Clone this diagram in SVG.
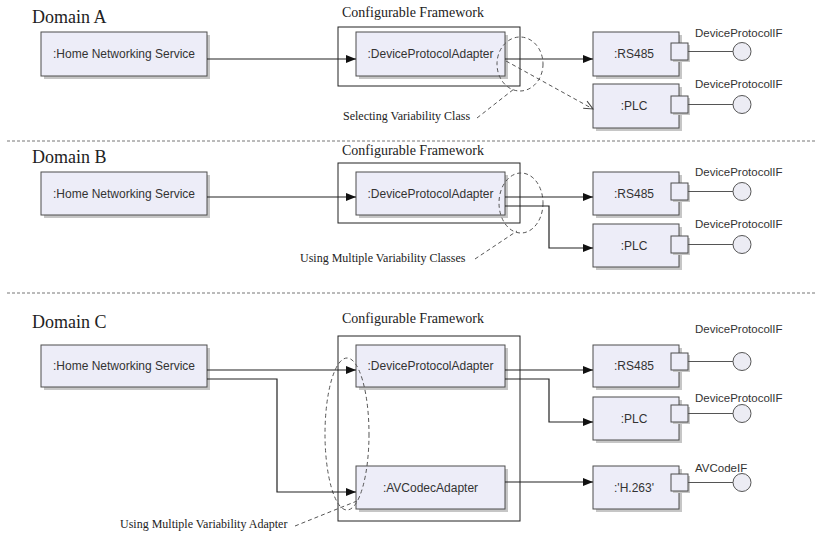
<svg xmlns="http://www.w3.org/2000/svg" width="817" height="535" viewBox="0 0 817 535">
<style>
.bg{fill:#ffffff}
.box{fill:#ededf8;stroke:#4d4d4d;stroke-width:1}
.shadow{fill:#c6c6c6}
.frame{fill:none;stroke:#222;stroke-width:1}
.lbl{font-family:"Liberation Sans",Arial,sans-serif;font-size:12px;fill:#333;text-anchor:middle}
.iflbl{font-family:"Liberation Sans",Arial,sans-serif;font-size:11.5px;fill:#333}
.dom{font-family:"Liberation Serif","Times New Roman",serif;font-size:18px;fill:#222}
.cf{font-family:"Liberation Serif","Times New Roman",serif;font-size:14px;fill:#222}
.note{font-family:"Liberation Serif","Times New Roman",serif;font-size:12px;fill:#222}
.conn{fill:none;stroke:#222;stroke-width:1.2}
.dash{fill:none;stroke:#555;stroke-width:1;stroke-dasharray:4 3}
.sep{fill:none;stroke:#777;stroke-width:1;stroke-dasharray:3 2}
.ifline{fill:none;stroke:#555;stroke-width:1}
.ifc{fill:#ececf4;stroke:#555;stroke-width:1}
</style>
<defs>
<marker id="arr" markerUnits="userSpaceOnUse" markerWidth="12" markerHeight="10" refX="11" refY="5" orient="auto">
<path d="M1,1 L11,5 L1,9 z" fill="#111"/>
</marker>
<marker id="open" markerUnits="userSpaceOnUse" markerWidth="12" markerHeight="10" refX="10" refY="5" orient="auto">
<path d="M1,1 L10,5 L1,9" fill="none" stroke="#444" stroke-width="1"/>
</marker>
</defs>
<rect class="bg" x="0" y="0" width="817" height="535"/>

<g id="separators">
<path class="sep" d="M7,141 H817"/>
<path class="sep" d="M7,293 H817"/>
</g>

<!-- Domain A -->
<g id="domainA-title"><text class="dom" x="32" y="23">Domain A</text></g>
<g id="A-framework">
<rect class="frame" x="338" y="27" width="182" height="59"/>
<text class="cf" x="342" y="17">Configurable Framework</text>
</g>
<g id="A-home">
<rect class="shadow" x="44" y="35" width="166" height="44"/>
<rect class="box" x="41" y="32" width="166" height="44"/>
<text class="lbl" x="124" y="58">:Home Networking Service</text>
</g>
<g id="A-dpa">
<rect class="shadow" x="359" y="35" width="149" height="44"/>
<rect class="box" x="356" y="32" width="149" height="44"/>
<text class="lbl" x="430.5" y="58">:DeviceProtocolAdapter</text>
</g>
<g id="A-rs485">
<rect class="shadow" x="596" y="35" width="86" height="44"/>
<rect class="box" x="593" y="32" width="86" height="44"/>
<text class="lbl" x="634" y="58">:RS485</text>
<rect class="shadow" x="673" y="45" width="17" height="17"/>
<rect class="box" x="671" y="43" width="17" height="17"/>
<path class="ifline" d="M688,51.5 H733"/>
<circle class="ifc" cx="742" cy="51.5" r="9"/>
<text class="iflbl" x="695" y="37">DeviceProtocolIF</text>
</g>
<g id="A-plc">
<rect class="shadow" x="596" y="87" width="86" height="44"/>
<rect class="box" x="593" y="84" width="86" height="44"/>
<text class="lbl" x="634" y="110">:PLC</text>
<rect class="shadow" x="673" y="98" width="17" height="17"/>
<rect class="box" x="671" y="96" width="17" height="17"/>
<path class="ifline" d="M688,104.5 H733"/>
<circle class="ifc" cx="742" cy="104.5" r="9"/>
<text class="iflbl" x="695" y="88">DeviceProtocolIF</text>
</g>
<g id="A-note">
<ellipse class="dash" cx="520" cy="64" rx="23" ry="27"/>
<path class="dash" d="M477,118 L514,89"/>
<text class="note" x="343" y="120">Selecting Variability Class</text>
</g>

<!-- Domain B -->
<g id="domainB-title"><text class="dom" x="32" y="163">Domain B</text></g>
<g id="B-framework">
<rect class="frame" x="338" y="163" width="182" height="60"/>
<text class="cf" x="342" y="155">Configurable Framework</text>
</g>
<g id="B-home">
<rect class="shadow" x="44" y="175" width="166" height="43"/>
<rect class="box" x="41" y="172" width="166" height="43"/>
<text class="lbl" x="124" y="197.5">:Home Networking Service</text>
</g>
<g id="B-dpa">
<rect class="shadow" x="359" y="175" width="149" height="43"/>
<rect class="box" x="356" y="172" width="149" height="43"/>
<text class="lbl" x="430.5" y="197.5">:DeviceProtocolAdapter</text>
</g>
<g id="B-rs485">
<rect class="shadow" x="596" y="175" width="86" height="43"/>
<rect class="box" x="593" y="172" width="86" height="43"/>
<text class="lbl" x="634" y="197.5">:RS485</text>
<rect class="shadow" x="673" y="185" width="17" height="17"/>
<rect class="box" x="671" y="183" width="17" height="17"/>
<path class="ifline" d="M688,191.5 H733"/>
<circle class="ifc" cx="742" cy="191.5" r="9"/>
<text class="iflbl" x="695" y="176">DeviceProtocolIF</text>
</g>
<g id="B-plc">
<rect class="shadow" x="596" y="227" width="86" height="43"/>
<rect class="box" x="593" y="224" width="86" height="43"/>
<text class="lbl" x="634" y="249.5">:PLC</text>
<rect class="shadow" x="673" y="238" width="17" height="17"/>
<rect class="box" x="671" y="236" width="17" height="17"/>
<path class="ifline" d="M688,244.5 H733"/>
<circle class="ifc" cx="742" cy="244.5" r="9"/>
<text class="iflbl" x="695" y="228">DeviceProtocolIF</text>
</g>
<g id="B-note">
<ellipse class="dash" cx="521" cy="203" rx="22" ry="30"/>
<path class="dash" d="M475,259 L517,231"/>
<text class="note" x="300" y="262">Using Multiple Variability Classes</text>
</g>

<!-- Domain C -->
<g id="domainC-title"><text class="dom" x="32" y="328">Domain C</text></g>
<g id="C-framework">
<rect class="frame" x="338" y="336" width="182" height="185"/>
<text class="cf" x="342" y="323">Configurable Framework</text>
</g>
<g id="C-home">
<rect class="shadow" x="44" y="348" width="166" height="42"/>
<rect class="box" x="41" y="345" width="166" height="42"/>
<text class="lbl" x="124" y="370">:Home Networking Service</text>
</g>
<g id="C-dpa">
<rect class="shadow" x="359" y="348" width="149" height="42"/>
<rect class="box" x="356" y="345" width="149" height="42"/>
<text class="lbl" x="430.5" y="370">:DeviceProtocolAdapter</text>
</g>
<g id="C-avcodec">
<rect class="shadow" x="359" y="469" width="149" height="43"/>
<rect class="box" x="356" y="466" width="149" height="43"/>
<text class="lbl" x="430.5" y="491.5">:AVCodecAdapter</text>
</g>
<g id="C-rs485">
<rect class="shadow" x="596" y="348" width="86" height="42"/>
<rect class="box" x="593" y="345" width="86" height="42"/>
<text class="lbl" x="634" y="370">:RS485</text>
<rect class="shadow" x="673" y="355" width="17" height="17"/>
<rect class="box" x="671" y="353" width="17" height="17"/>
<path class="ifline" d="M688,361.5 H733"/>
<circle class="ifc" cx="742" cy="361.5" r="9"/>
<text class="iflbl" x="695" y="333">DeviceProtocolIF</text>
</g>
<g id="C-plc">
<rect class="shadow" x="596" y="400" width="86" height="43"/>
<rect class="box" x="593" y="397" width="86" height="43"/>
<text class="lbl" x="634" y="422.5">:PLC</text>
<rect class="shadow" x="673" y="407" width="17" height="17"/>
<rect class="box" x="671" y="405" width="17" height="17"/>
<path class="ifline" d="M688,413.5 H733"/>
<circle class="ifc" cx="742" cy="413.5" r="9"/>
<text class="iflbl" x="695" y="402">DeviceProtocolIF</text>
</g>
<g id="C-h263">
<rect class="shadow" x="596" y="469" width="86" height="43"/>
<rect class="box" x="593" y="466" width="86" height="43"/>
<text class="lbl" x="634" y="491.5">:'H.263'</text>
<rect class="shadow" x="673" y="476" width="17" height="17"/>
<rect class="box" x="671" y="474" width="17" height="17"/>
<path class="ifline" d="M688,482.5 H733"/>
<circle class="ifc" cx="742" cy="482.5" r="9"/>
<text class="iflbl" x="695" y="472">AVCodeIF</text>
</g>
<g id="C-note">
<ellipse class="dash" cx="347" cy="434" rx="22" ry="76"/>
<path class="dash" d="M295,526 L357,501"/>
<text class="note" x="120" y="528">Using Multiple Variability Adapter</text>
</g>

<g id="connectors">
<path class="conn" d="M207,59 H356" marker-end="url(#arr)"/>
<path class="conn" d="M505,59 H593" marker-end="url(#arr)"/>
<path class="dash" d="M506,61 L593,109" marker-end="url(#open)"/>
<path class="conn" d="M207,197 H356" marker-end="url(#arr)"/>
<path class="conn" d="M505,197 H593" marker-end="url(#arr)"/>
<path class="conn" d="M505,206 H549 V248 H593" marker-end="url(#arr)"/>
<path class="conn" d="M207,370 H356" marker-end="url(#arr)"/>
<path class="conn" d="M207,379 H277 V492 H356" marker-end="url(#arr)"/>
<path class="conn" d="M505,370 H593" marker-end="url(#arr)"/>
<path class="conn" d="M505,379 H549 V422 H593" marker-end="url(#arr)"/>
<path class="conn" d="M505,482 H593" marker-end="url(#arr)"/>
</g>
</svg>
